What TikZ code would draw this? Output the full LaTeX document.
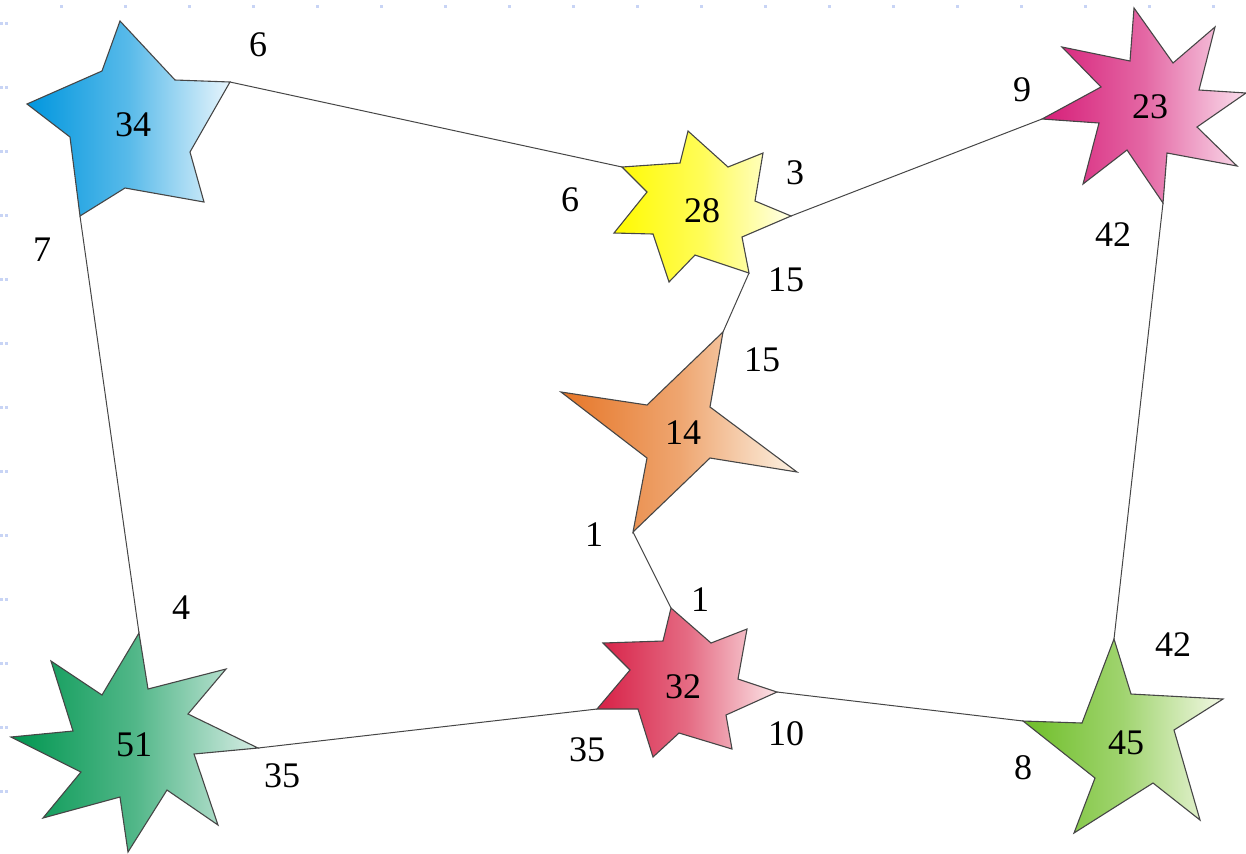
\documentclass[tikz,border=0pt]{standalone}
\usepackage{fontspec}
\setmainfont{Liberation Serif}
\newfontfamily\numfont{Liberation Serif}
\definecolor{c34a}{RGB}{0,150,222}\definecolor{c34b}{RGB}{232,245,252}
\definecolor{c28a}{RGB}{255,250,0}\definecolor{c28b}{RGB}{255,255,232}
\definecolor{c23a}{RGB}{214,30,120}\definecolor{c23b}{RGB}{250,222,236}
\definecolor{c14a}{RGB}{230,118,40}\definecolor{c14b}{RGB}{252,242,228}
\definecolor{c51a}{RGB}{0,150,80}\definecolor{c51b}{RGB}{214,236,228}
\definecolor{c32a}{RGB}{215,32,70}\definecolor{c32b}{RGB}{251,228,230}
\definecolor{c45a}{RGB}{110,190,40}\definecolor{c45b}{RGB}{242,248,228}
\definecolor{edge}{RGB}{70,70,70}
\definecolor{tick}{RGB}{200,212,245}
\tikzset{
  starshape/.style={draw=edge,line width=0.55pt,line join=miter},
  grad/.style 2 args={left color=#1,right color=#2,middle color=#1!62!#2},
  link/.style={draw=edge,line width=0.5pt},
  num/.style={font=\numfont\fontsize{18}{21}\selectfont,text=black,inner sep=0pt},
  lbl/.style={font=\numfont\fontsize{18}{21}\selectfont,text=black,inner sep=0pt},
  tickmark/.style={fill=tick,draw=none}
}
\begin{document}
\begin{tikzpicture}[x=0.5pt,y=-0.5pt]
\useasboundingbox (0,0) rectangle (1246,853);
% faint grid marks
\foreach \i in {0,...,18} {\fill[tickmark] ({61+64*\i-1.5},4.5) rectangle ++(3,3);}
\foreach \j in {0,...,12} {
  \fill[tickmark] (0,{23+64*\j-1}) rectangle ++(2.5,2.5);
  \fill[tickmark] (5,{23+64*\j-1}) rectangle ++(2.5,2.5);}
% star 34
\shadedraw[starshape,grad={c34a}{c34b}]
 (120,21) -- (102,71) -- (27,104) -- (70,137) -- (80,216) coordinate (t34b) -- (125,188)
 -- (204,202) -- (190,152) -- (230,82) coordinate (t34r) -- (175,80) -- cycle;
\node[num] (n34) at (133,125) {34};
% star 28
\shadedraw[starshape,grad={c28a}{c28b}]
 (622,167) coordinate (t28l) -- (647,192) -- (614,233) -- (653,234) -- (669,282) -- (695,255)
 -- (749,273) coordinate (t28b) -- (742,237) -- (791,216) coordinate (t28r) -- (755,201)
 -- (763,153) -- (728,167) -- (688,131) -- (680,163) -- cycle;
\node[num] (n28) at (702,211) {28};
% star 23
\shadedraw[starshape,grad={c23a}{c23b}]
 (1134,8) -- (1173,63) -- (1215,27) -- (1199,90) -- (1246,93) -- (1197,127) -- (1237,166)
 -- (1167,153) -- (1163,203) coordinate (t23b) -- (1127,150) -- (1083,184) -- (1099,123)
 -- (1042,119) coordinate (t23l) -- (1101,87) -- (1062,47) -- (1130,61) -- cycle;
\node[num] (n23) at (1150,107) {23};
% star 14
\shadedraw[starshape,grad={c14a}{c14b}]
 (723,332) coordinate (t14t) -- (710,407) -- (797,472) -- (710,458) -- (633,532) coordinate (t14b)
 -- (647,458) -- (561,392) -- (647,405) -- cycle;
\node[num] (n14) at (683,433) {14};
% star 51
\shadedraw[starshape,grad={c51a}{c51b}]
 (139,633) coordinate (t51t) -- (148,689) -- (226,669) -- (188,714) -- (258,748) coordinate (t51r)
 -- (194,754) -- (218,825) -- (167,790) -- (128,852) -- (120,797) -- (43,818) -- (81,772)
 -- (11,737) -- (73,731) -- (51,661) -- (102,695) -- cycle;
\node[num] (n51) at (134,745) {51};
% star 32
\shadedraw[starshape,grad={c32a}{c32b}]
 (671,608) coordinate (t32t) -- (711,643) -- (747,629) -- (738,679) -- (777,692) coordinate (t32r)
 -- (726,715) -- (732,749) -- (679,733) -- (653,757) -- (638,709) -- (597,709) coordinate (t32l)
 -- (630,670) -- (603,643) -- (663,641) -- cycle;
\node[num] (n32) at (683,687) {32};
% star 45
\shadedraw[starshape,grad={c45a}{c45b}]
 (1114,639) coordinate (t45t) -- (1131,694) -- (1223,699) -- (1174,730) -- (1200,820)
 -- (1153,783) -- (1074,833) -- (1095,778) -- (1023,721) coordinate (t45l) -- (1082,723) -- cycle;
\node[num] (n45) at (1126,743) {45};
% connectors
\draw[link] (t34r) -- (t28l);
\draw[link] (t34b) -- (t51t);
\draw[link] (t28r) -- (t23l);
\draw[link] (t28b) -- (t14t);
\draw[link] (t14b) -- (t32t);
\draw[link] (t32l) -- (t51r);
\draw[link] (t32r) -- (t45l);
\draw[link] (t23b) -- (t45t);
% labels
\node[lbl] (l1) at (258,45) {6};
\node[lbl] (l2) at (570,200) {6};
\node[lbl] (l3) at (42,250) {7};
\node[lbl] (l4) at (795,173) {3};
\node[lbl] (l5) at (1022,90) {9};
\node[lbl] (l6) at (1113,235) {42};
\node[lbl] (l7) at (786,280) {15};
\node[lbl] (l8) at (762,360) {15};
\node[lbl] (l9) at (594,535) {1};
\node[lbl] (l10) at (700,600) {1};
\node[lbl] (l11) at (181,608) {4};
\node[lbl] (l12) at (282,776) {35};
\node[lbl] (l13) at (587,750) {35};
\node[lbl] (l14) at (786,734) {10};
\node[lbl] (l15) at (1173,645) {42};
\node[lbl] (l16) at (1023,768) {8};
\end{tikzpicture}
\end{document}
